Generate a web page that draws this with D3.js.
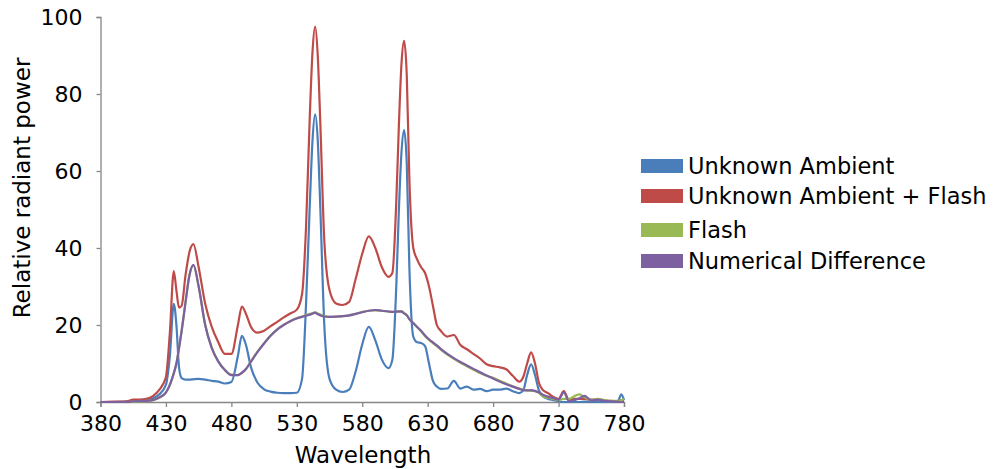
<!DOCTYPE html>
<html>
<head>
<meta charset="utf-8">
<script src="https://cdnjs.cloudflare.com/ajax/libs/d3/7.8.5/d3.min.js"></script>
<style>
body { margin: 0; background: #fff; }
svg text { font-family: "DejaVu Sans", Verdana, sans-serif; fill: #000; }
</style>
</head>
<body>
<script>
// wavelengths (nm) shared by all series
var wavelengths = [380,390,400,405,410,415,420,425,430,433,436,438,440,442,445,448,451,455,460,465,470,475,480,485,488,491,495,500,505,510,515,520,525,530,534,537,540,542,544,546,548,551,555,560,565,570,575,580,585,590,595,600,603,606,608,610,612,614,616,619,622,625,628,631,634,637,640,645,650,655,660,665,670,675,680,685,690,695,700,703,706,709,712,715,718,722,726,730,734,738,742,746,750,755,760,765,770,775,778,780];

var ambient = [0,0,0.1,0.2,0.3,0.5,1.0,2.0,4.5,12,25.5,20,9,6.2,5.8,5.8,5.9,6.0,5.8,5.5,5.3,4.8,5.2,12,17.2,15,9,5,3.3,2.7,2.4,2.3,2.3,2.4,6,25,52,68,74.7,68,50,20,6,3.2,2.6,3.2,8,15,19.5,16,11,8.8,11,30,50,65,70.6,62,35,17,15.5,15.3,14.5,10,5.5,4,3.4,3.5,5.5,3.5,4,3.2,3.4,2.8,3.2,3.2,3.5,2.8,2.3,3,7,9.8,7,3,1.5,0.8,0.5,0.2,0,0,0,0,0.1,0,0,0,0,0,2,0.5];

var ambientFlash = [0,0.1,0.2,0.6,0.6,0.8,1.5,3.2,6.5,18,34,29,24.5,25,33,39,41,35,25.5,19.5,15.5,12.5,12.5,20,24.8,23,19.5,18,18.5,19.7,20.8,22,23,24,28,45,75,91,97.5,90,72,42,29,25.6,25.2,26,32,38.5,43,40,35,32.5,33.5,52,72,88,93.8,85,58,40,37,35,33.5,30,25,20,18.5,17,17.4,14.8,13.7,12.5,11.3,9.8,9.3,9,8.5,6.8,5.3,6.5,10,12.9,10,5,3.1,2.3,1.3,0.8,2.8,0.5,0.8,0.8,0.8,0.6,0.7,0.4,0.3,0.2,0.5,0.3];

var flash = [0,0,0,0.1,0.2,0.3,0.5,1.1,2.4,4.4,7.4,10,14,18.4,26,33,35.5,30,20,14.2,10.6,8.4,7.1,7.0,7.5,8.5,10.6,13.1,15.3,17.3,18.9,20.1,21,21.8,22.2,22.6,22.9,23.1,23.3,23.0,22.7,22.3,22.1,22.1,22.3,22.5,22.9,23.4,23.7,23.8,23.7,23.5,23.4,23.5,23.6,23.6,23.1,22.6,21.6,20.5,19.4,18.3,17.1,16.1,15.3,14.5,13.6,12.3,11.2,10.2,9.3,8.4,7.5,6.8,6.3,5.5,4.8,4.1,3.5,3.2,3.0,2.9,2.8,2.3,1.5,1.1,0.8,0.5,0.8,0.8,1.5,2.0,1.2,0.5,0.8,0.5,0.3,0.3,0.5,0.8];

var difference = [0,0,0,0.2,0.3,0.3,0.5,1.2,2.5,4.5,7.5,10,14,18.5,26,33,35.6,30,20,14,10.5,8.3,7.0,7.0,7.6,8.5,10.5,13,15.2,17.2,18.8,20,21,21.7,22.1,22.4,22.7,22.9,23.2,22.8,22.5,22.2,22.1,22.2,22.3,22.5,22.9,23.3,23.7,23.9,23.7,23.5,23.4,23.5,23.5,23.5,23,22.5,21.5,20.5,19.5,18.5,17.3,16.3,15.5,14.7,13.8,12.5,11.4,10.4,9.5,8.6,7.7,6.9,6.1,5.3,4.6,4,3.4,3.1,3.0,3.1,2.9,2.5,1.9,1.4,1.0,0.6,2.5,0.2,0.5,1.0,1.6,0.4,0.6,0.3,0.2,0.1,0,0];

var seriesNames = ["Unknown Ambient", "Unknown Ambient + Flash", "Flash", "Numerical Difference"];
var seriesColors = ["#4a7ebb", "#be4b48", "#98b954", "#7d60a0"];
var seriesValues = [ambient, ambientFlash, flash, difference];

var xTicks = [380,430,480,530,580,630,680,730,780];
var yTicks = [0,20,40,60,80,100];

var width = 993, height = 469;

var svg = d3.select("body").append("svg")
  .attr("width", width)
  .attr("height", height);

var x = d3.scaleLinear().domain([380,780]).range([100.5,624]);
var y = d3.scaleLinear().domain([0,100]).range([402,17]);

// y axis
var yAxis = svg.append("g")
  .attr("transform", "translate(100.5,0)")
  .call(d3.axisLeft(y).tickValues(yTicks).tickSize(4).tickPadding(14));
// x axis
var xAxis = svg.append("g")
  .attr("transform", "translate(0,402)")
  .call(d3.axisBottom(x).tickValues(xTicks).tickSize(5).tickPadding(8));

[yAxis, xAxis].forEach(function(a){
  a.select(".domain").attr("stroke","#868686").attr("stroke-width",1.3);
  a.selectAll(".tick line").attr("stroke","#868686").attr("stroke-width",1.3);
  a.selectAll(".tick text").style("font-size","22px").attr("fill","#000");
});

// axis titles
svg.append("text")
  .attr("x", 363).attr("y", 463)
  .attr("text-anchor","middle")
  .style("font-size","23px")
  .text("Wavelength");
svg.append("text")
  .attr("transform","translate(30,188) rotate(-90)")
  .attr("text-anchor","middle")
  .style("font-size","23px")
  .text("Relative radiant power");

// lines
var line = d3.line()
  .x(function(d){ return x(d[0]); })
  .y(function(d){ return y(d[1]); })
  .curve(d3.curveMonotoneX);

seriesValues.forEach(function(vals,i){
  var pts = wavelengths.map(function(w,j){ return [w, vals[j]]; });
  svg.append("path")
    .datum(pts)
    .attr("fill","none")
    .attr("stroke", seriesColors[i])
    .attr("stroke-width", 2.2)
    .attr("stroke-linejoin","round")
    .attr("d", line);
});

// legend
var legendY = [166,196,230,261];
var legend = svg.append("g");
seriesNames.forEach(function(name,i){
  legend.append("rect")
    .attr("x", 641).attr("y", legendY[i]-7)
    .attr("width", 42).attr("height", 14)
    .attr("fill", seriesColors[i]);
  legend.append("text")
    .attr("x", 688).attr("y", legendY[i])
    .attr("dy","0.35em")
    .style("font-size","22.5px")
    .text(name);
});
</script>
</body>
</html>
